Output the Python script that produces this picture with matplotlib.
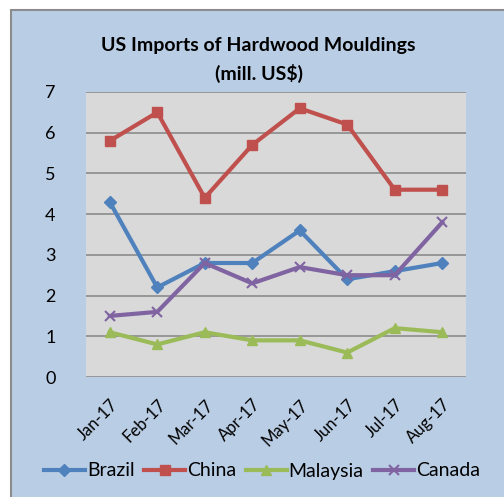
import matplotlib.pyplot as plt
from matplotlib.patches import Rectangle

# --- Datos ---
meses = ["Jan-17", "Feb-17", "Mar-17", "Apr-17", "May-17", "Jun-17", "Jul-17", "Aug-17"]
brazil = [4.3, 2.2, 2.8, 2.8, 3.6, 2.4, 2.6, 2.8]
china = [5.8, 6.5, 4.4, 5.7, 6.6, 6.2, 4.6, 4.6]
malaysia = [1.1, 0.8, 1.1, 0.9, 0.9, 0.6, 1.2, 1.1]
canada = [1.5, 1.6, 2.8, 2.3, 2.7, 2.5, 2.5, 3.8]

plt.rcParams['font.family'] = ['Lato', 'DejaVu Sans']

fig = plt.figure(figsize=(5.04, 4.97), dpi=100)
fig.patch.set_facecolor("white")

# marco azul del gráfico
fig.patches.append(Rectangle((11 / 504, -0.01), 1.0, 1 - 10 / 497 + 0.01,
                             transform=fig.transFigure, facecolor="#B9CDE5",
                             edgecolor="#8C8C8C", linewidth=1.5, zorder=-10))

ax = fig.add_axes([86 / 504, 1 - 377 / 497, 380 / 504, 285 / 497])
ax.set_facecolor("#D9D9D9")

x = range(len(meses))
ax.plot(x, brazil, color="#4F81BD", lw=3, marker="D", ms=6, label="Brazil")
ax.plot(x, china, color="#C0504D", lw=3, marker="s", ms=7, label="China")
ax.plot(x, malaysia, color="#9BBB59", lw=3, marker="^", ms=7, label="Malaysia")
ax.plot(x, canada, color="#8064A2", lw=3, marker="x", ms=7, mew=1.5, label="Canada")

ax.set_xlim(-0.5, 7.5)
ax.set_ylim(0, 7)
ax.set_yticks(range(8))
ax.yaxis.grid(True, color="#8C8C8C", lw=1.2)
ax.set_axisbelow(True)
for s in ax.spines.values():
    s.set_visible(False)
ax.tick_params(length=0)
ax.tick_params(axis="y", labelsize=13, pad=22)
ax.set_xticks(list(x))
ax.set_xticklabels(meses, rotation=45, ha="right", rotation_mode="anchor", fontsize=12)
ax.tick_params(axis="x", pad=14)

fig.text(0.513, 1 - 45 / 497, "US Imports of Hardwood Mouldings", ha="center",
         va="center", fontsize=14, fontweight="bold")
fig.text(0.513, 1 - 73 / 497, "(mill. US$)", ha="center", va="center",
         fontsize=14, fontweight="bold")

fig.legend(loc="center", bbox_to_anchor=(0.52, 1 - 471 / 497), ncol=4,
           frameon=False, fontsize=14, handlelength=2.1, handletextpad=0.1,
           columnspacing=0.5)

plt.savefig("out.png", dpi=100)
